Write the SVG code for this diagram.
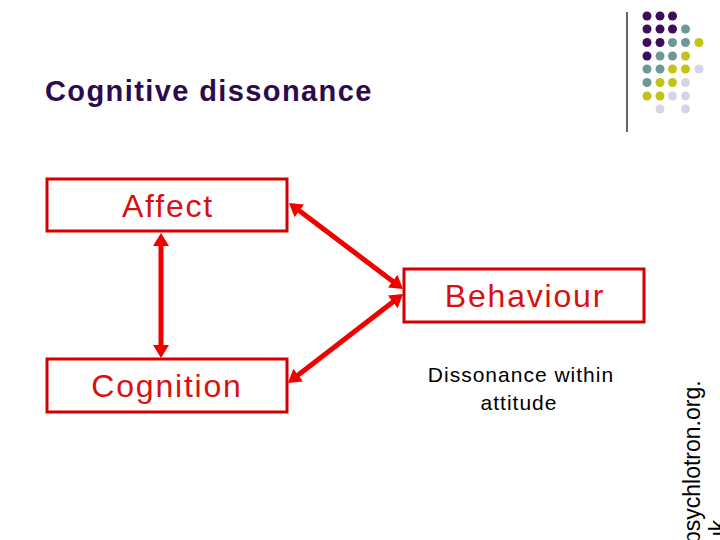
<svg xmlns="http://www.w3.org/2000/svg" width="720" height="540" viewBox="0 0 720 540">
<style>
.box{fill:#fff;stroke:#d40000;stroke-width:3}
.lbl{font-family:"Liberation Sans",Arial,sans-serif;font-size:32px;fill:#d81010;text-anchor:middle;letter-spacing:1.8px}
.conn{stroke:#f00000;stroke-width:5;fill:none}
.p{fill:#3b0d5c}.t{fill:#6e9898}.y{fill:#c3c21b}.l{fill:#d5d5e8}
</style>
<defs>
<marker id="ah" markerUnits="userSpaceOnUse" markerWidth="13" markerHeight="16" refX="5" refY="8" orient="auto-start-reverse">
<path d="M0,0 L13,8 L0,16 z" fill="#f00000"/>
</marker>
</defs>
<rect width="720" height="540" fill="#fff"/>
<g id="decor">
<line x1="627" y1="12" x2="627" y2="132" stroke="#333" stroke-width="1.5"/>
<g>
<circle class="p" cx="647" cy="16" r="4.5"/><circle class="p" cx="660" cy="16" r="4.5"/><circle class="p" cx="672.5" cy="16" r="4.5"/>
<circle class="p" cx="647" cy="29" r="4.5"/><circle class="p" cx="660" cy="29" r="4.5"/><circle class="p" cx="672.5" cy="29" r="4.5"/><circle class="t" cx="685.5" cy="29" r="4.5"/>
<circle class="p" cx="647" cy="42.5" r="4.5"/><circle class="p" cx="660" cy="42.5" r="4.5"/><circle class="t" cx="672.5" cy="42.5" r="4.5"/><circle class="t" cx="685.5" cy="42.5" r="4.5"/><circle class="y" cx="699" cy="42.5" r="4.5"/>
<circle class="p" cx="647" cy="56" r="4.5"/><circle class="t" cx="660" cy="56" r="4.5"/><circle class="t" cx="672.5" cy="56" r="4.5"/><circle class="y" cx="685.5" cy="56" r="4.5"/>
<circle class="t" cx="647" cy="69" r="4.5"/><circle class="t" cx="660" cy="69" r="4.5"/><circle class="y" cx="672.5" cy="69" r="4.5"/><circle class="y" cx="685.5" cy="69" r="4.5"/><circle class="l" cx="699" cy="69" r="4.5"/>
<circle class="t" cx="647" cy="82.5" r="4.5"/><circle class="y" cx="660" cy="82.5" r="4.5"/><circle class="y" cx="672.5" cy="82.5" r="4.5"/><circle class="l" cx="685.5" cy="82.5" r="4.5"/>
<circle class="y" cx="647" cy="96" r="4.5"/><circle class="y" cx="660" cy="96" r="4.5"/><circle class="l" cx="672.5" cy="96" r="4.5"/><circle class="l" cx="685.5" cy="96" r="4.5"/>
<circle class="l" cx="660" cy="109" r="4.5"/><circle class="l" cx="685.5" cy="109" r="4.5"/>
</g>
</g>
<text id="title" x="45" y="101" font-family="'Liberation Sans',Arial,sans-serif" font-size="29" font-weight="bold" fill="#2b0a4d" letter-spacing="1.4">Cognitive dissonance</text>
<g id="connectors">
<line class="conn" x1="161" y1="241" x2="161" y2="350" marker-start="url(#ah)" marker-end="url(#ah)"/>
<line class="conn" x1="295.4" y1="207.8" x2="396.6" y2="284.2" marker-start="url(#ah)" marker-end="url(#ah)"/>
<line class="conn" x1="396.7" y1="298.9" x2="294.3" y2="378.1" marker-start="url(#ah)" marker-end="url(#ah)"/>
</g>
<g id="affect">
<rect class="box" x="47" y="179" width="240" height="52"/>
<text class="lbl" x="168" y="217">Affect</text>
</g>
<g id="behaviour">
<rect class="box" x="404" y="269" width="240" height="53"/>
<text class="lbl" x="525" y="307">Behaviour</text>
</g>
<g id="cognition">
<rect class="box" x="47" y="359" width="240" height="53"/>
<text class="lbl" x="167" y="397">Cognition</text>
</g>
<g id="note">
<text x="521" y="382" font-family="'Liberation Sans',Arial,sans-serif" font-size="21" fill="#000" text-anchor="middle" letter-spacing="1">Dissonance within</text>
<text x="519" y="410" font-family="'Liberation Sans',Arial,sans-serif" font-size="21" fill="#000" text-anchor="middle" letter-spacing="1">attitude</text>
</g>
<g id="credit" font-family="'Liberation Sans',Arial,sans-serif" font-size="23" fill="#000">
<text transform="translate(700,544) rotate(-90)" x="0" y="0">psychlotron.org.</text>
<text transform="translate(726,544) rotate(-90)" x="0" y="0">uk</text>
</g>
</svg>
